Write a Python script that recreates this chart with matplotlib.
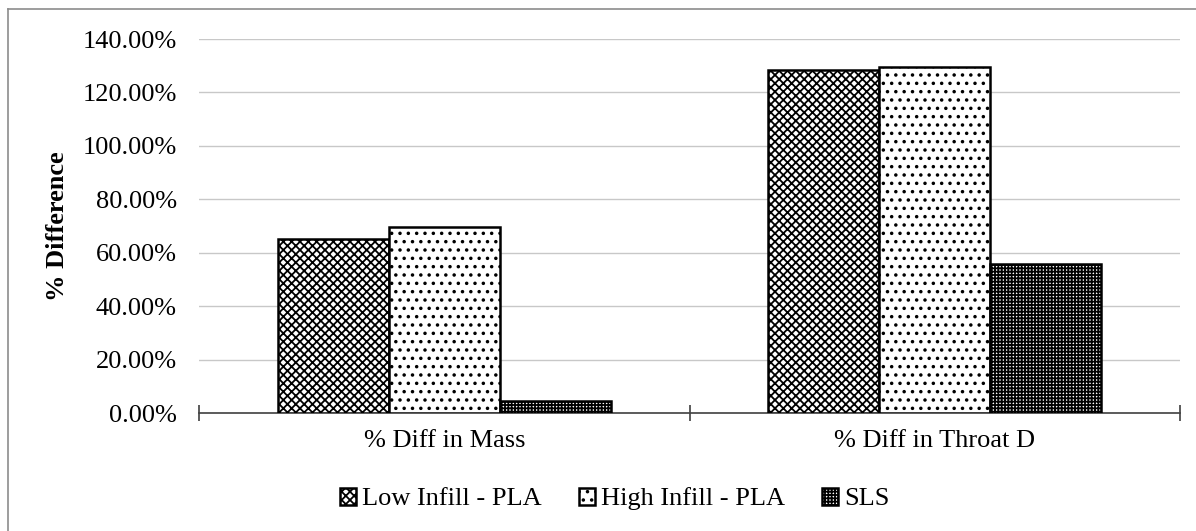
import matplotlib
matplotlib.use("Agg")
import matplotlib.pyplot as plt
import numpy as np
from matplotlib.lines import Line2D
from matplotlib.ticker import FuncFormatter

categories = ["% Diff in Mass", "% Diff in Throat D"]
series_names = ["Low Infill - PLA", "High Infill - PLA", "SLS"]
low_infill = [65.2, 128.5]
high_infill = [69.5, 129.5]
sls = [4.5, 55.6]
yticks = [0, 20, 40, 60, 80, 100, 120, 140]

plt.rcParams['font.family'] = ['Liberation Serif', 'DejaVu Serif']
plt.rcParams['hatch.linewidth'] = 1.3

FS = 19

fig = plt.figure(figsize=(11.96, 5.31), dpi=100)
ax = fig.add_axes([199/1196, 1-413/531, (1180-199)/1196, (413-39)/531])

x = np.arange(len(categories))
w = 0.226
hatches = ['xxxx', '..', '+++++']
data = [low_infill, high_infill, sls]
for i, (vals, h, name) in enumerate(zip(data, hatches, series_names)):
    ax.bar(x + (i-1)*w, vals, width=w, color='white', edgecolor='black',
           hatch=h, linewidth=1.8, label=name, zorder=3)

ax.set_xlim(-0.5, 1.5)
ax.set_ylim(0, 140)
ax.set_yticks(yticks)
ax.yaxis.set_major_formatter(FuncFormatter(lambda v, p: f"{v:.2f}%"))
ax.grid(axis='y', color='#c8c8c8', linewidth=1, zorder=0)
for s in ['top', 'right', 'left']:
    ax.spines[s].set_visible(False)
ax.spines['bottom'].set_color('#404040')
ax.spines['bottom'].set_linewidth(1.2)
ax.tick_params(axis='y', length=0, labelsize=FS, pad=16)
ax.set_xticks(x)
ax.set_xticklabels(categories, fontsize=FS)
ax.tick_params(axis='x', length=0, pad=12)
# category separator ticks
ax.set_xticks([-0.5, 0.5, 1.5], minor=True)
ax.tick_params(axis='x', which='minor', length=12, width=1.2, direction='inout', color='#404040')
ax.set_ylabel('% Difference', fontsize=FS, fontweight='bold', labelpad=10)

handles, labels = ax.get_legend_handles_labels()
fig.legend(handles, labels, loc='center', bbox_to_anchor=(615/1196, 1-499/531), ncol=3,
           frameon=False, fontsize=FS, handlelength=0.6, handleheight=0.6,
           handletextpad=0.25, columnspacing=1.4)

fig.add_artist(Line2D([8/1196, 8/1196], [0, 1-9/531], color='#8c8c8c', lw=1.2, transform=fig.transFigure))
fig.add_artist(Line2D([8/1196, 1], [1-9/531, 1-9/531], color='#8c8c8c', lw=1.2, transform=fig.transFigure))

fig.savefig('out.png', dpi=100)
